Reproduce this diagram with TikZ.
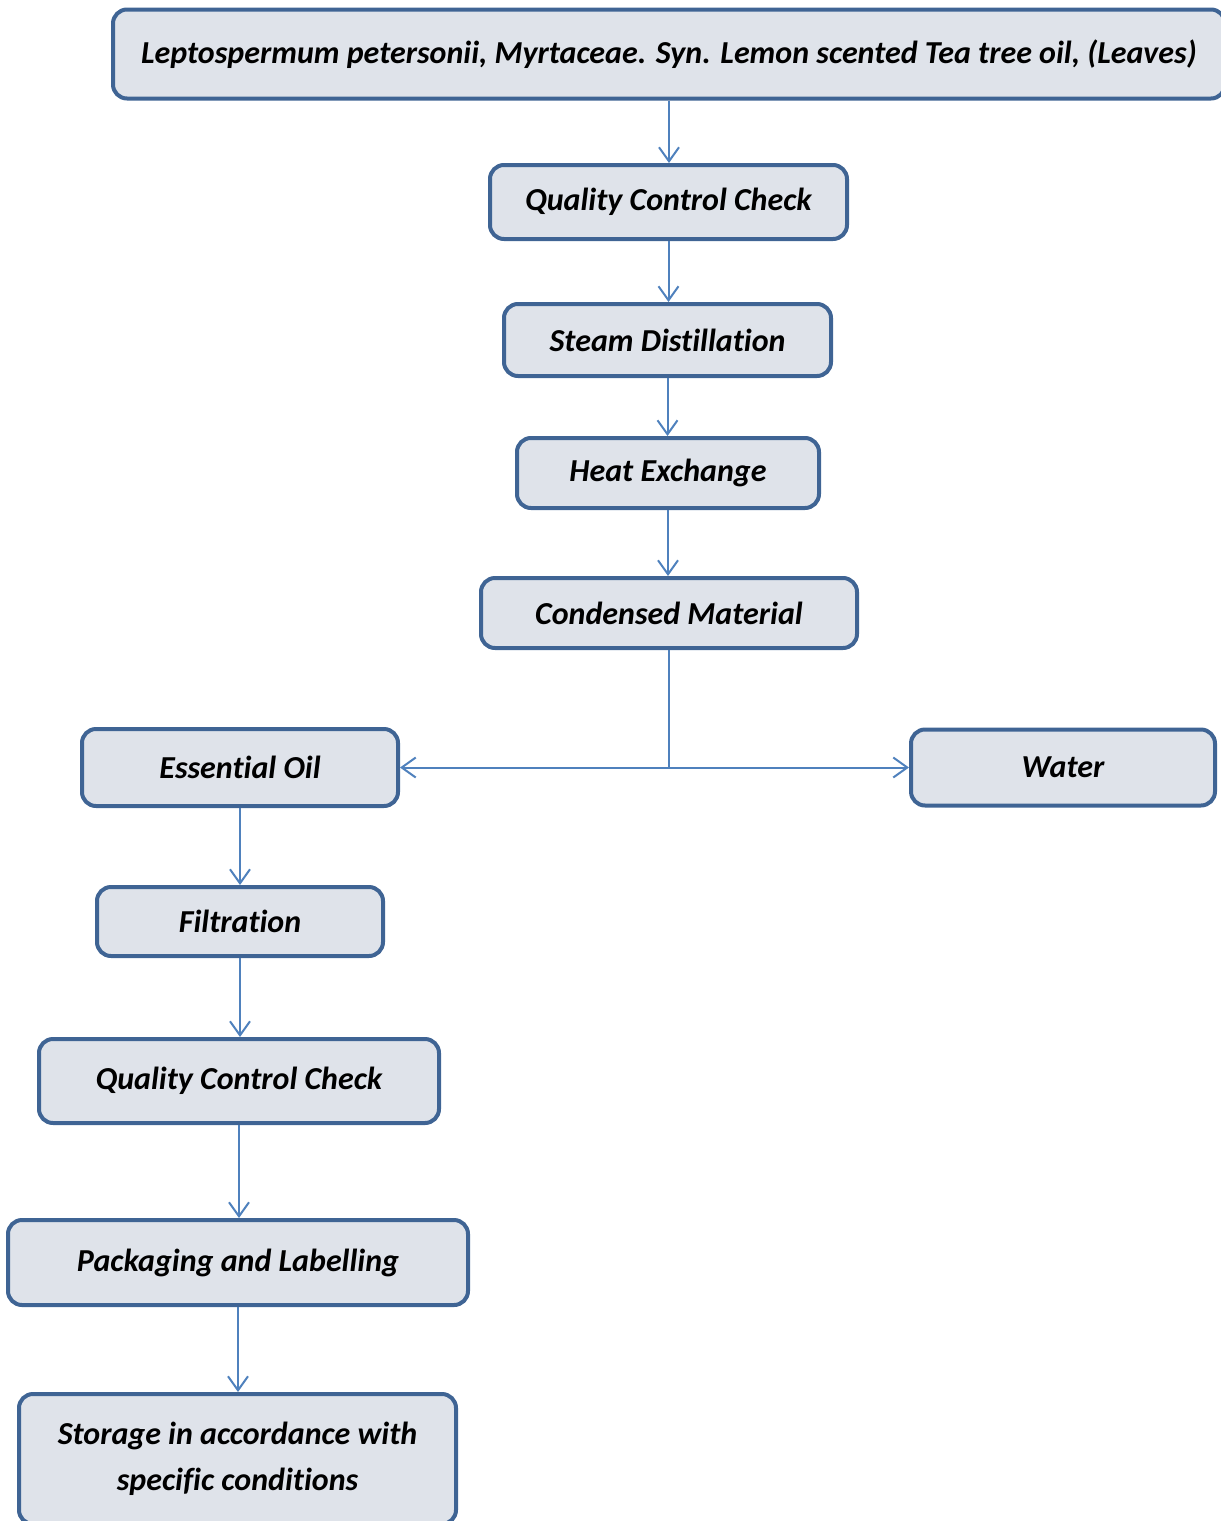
\documentclass[tikz,border=0pt]{standalone}
\usepackage{fontspec}
\setmainfont{Carlito}[Ligatures=NoCommon]
\usetikzlibrary{positioning}
\usetikzlibrary{arrows.meta}
\definecolor{boxline}{HTML}{3F6494}
\definecolor{boxfill}{HTML}{DFE3EA}
\definecolor{flowline}{HTML}{4F81BD}

\begin{document}
\begin{tikzpicture}[x=0.5pt,y=0.5pt,
        stepbox/.style={draw=boxline, fill=boxfill, line width=2pt, rounded corners=7pt,
            align=center, inner sep=0pt, font=\fontsize{16}{23}\selectfont\bfseries\itshape},
        flow/.style={draw=flowline, line width=1pt, -{Straight Barb[length=7pt,width=10pt]}}]
            \useasboundingbox (0,0) rectangle (1221,-1521);
            % main line
            \node[stepbox, minimum width=1112*0.5pt, minimum height=89*0.5pt] (src) at (669,-54)
                {Leptospermum petersonii, Myrtaceae. Syn. Lemon scented Tea tree oil, (Leaves)};
            \node[stepbox, minimum width=357*0.5pt, minimum height=74*0.5pt] (qca) at (668.5,-202) {Quality Control Check};
            \node[stepbox, minimum width=327*0.5pt, minimum height=72*0.5pt] (steam) at (667.5,-340) {Steam Distillation};
            \node[stepbox, minimum width=302*0.5pt, minimum height=70*0.5pt] (heat) at (668,-473) {Heat Exchange};
            \node[stepbox, minimum width=376*0.5pt, minimum height=70*0.5pt] (cond) at (669,-613) {Condensed Material};
            % branches
            \node[stepbox, minimum width=316*0.5pt, minimum height=77*0.5pt] (oil) at (240,-767.5) {Essential Oil};
            \node[stepbox, minimum width=304*0.5pt, minimum height=76*0.5pt] (water) at (1063,-767.5) {Water};
            % oil line
            \node[stepbox, minimum width=286*0.5pt, minimum height=69*0.5pt] (filt) at (240,-921.5) {Filtration};
            \node[stepbox, minimum width=400*0.5pt, minimum height=84*0.5pt] (qcb) at (239,-1081) {Quality Control Check};
            \node[stepbox, minimum width=460*0.5pt, minimum height=85*0.5pt] (pack) at (238,-1262.5) {Packaging and Labelling};
            \node[stepbox, minimum width=437*0.5pt, minimum height=130*0.5pt] (store) at (237.5,-1459)
                {Storage in accordance with\\specific conditions};

            \draw[flow] (src.south) -- (src.south |- qca.north);
            \draw[flow] (qca.south) -- (qca.south |- steam.north);
            \draw[flow] (steam.south) -- (steam.south |- heat.north);
            \draw[flow] (heat.south) -- (heat.south |- cond.north);
            \draw[flow] (cond.south) |- (oil.east);
            \draw[flow] (cond.south) |- (water.west);
            \draw[flow] (oil.south) -- (oil.south |- filt.north);
            \draw[flow] (filt.south) -- (filt.south |- qcb.north);
            \draw[flow] (qcb.south) -- (qcb.south |- pack.north);
            \draw[flow] (pack.south) -- (pack.south |- store.north);
        \end{tikzpicture}
\end{document}
